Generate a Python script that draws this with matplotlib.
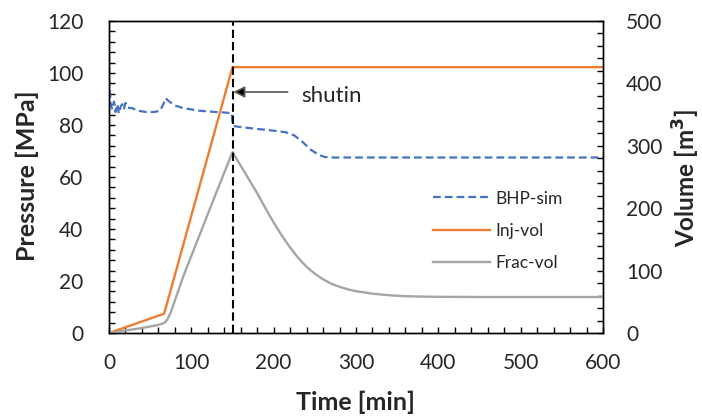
import matplotlib
matplotlib.use("Agg")
import matplotlib.pyplot as plt
from matplotlib.ticker import MultipleLocator

plt.rcParams['font.family'] = ['Lato', 'DejaVu Sans']
plt.rcParams['xtick.direction'] = 'in'
plt.rcParams['ytick.direction'] = 'in'
plt.rcParams['xtick.major.pad'] = 14.5
plt.rcParams['ytick.major.pad'] = 18.5

# Bottom-hole pressure from simulation (MPa)
t_bhp = [0, 0.5, 2, 4, 6, 8, 10, 12, 14, 16, 18, 20, 22, 25, 28, 35, 45, 55, 62,
         66, 69, 72, 80, 90, 100, 110, 120, 130, 140, 149, 150, 151, 160, 180,
         200, 215, 225, 235, 245, 255, 262, 270, 300, 400, 500, 600]
bhp = [107, 95, 88, 86, 89, 85, 88, 84.5, 87, 88, 86, 88.5, 87, 86.5, 86.5, 85.5,
       85, 85, 85.5, 88, 90.3, 89.3, 87.5, 86.5, 86, 85.5, 85.2, 85, 84.8, 84.6,
       81, 79.6, 79.2, 78.5, 77.8, 77.2, 76, 73.5, 70.5, 68.5, 67.7, 67.5, 67.5,
       67.5, 67.5, 67.5]

# Cumulative injected volume (m3)
t_inj = [0, 67, 150, 600]
inj_vol = [0, 31, 426, 426]

# Fracture volume (m3)
t_frac = [0, 20, 40, 60, 65, 68, 71, 75, 90, 110, 130, 150, 160, 170, 180, 190,
          200, 210, 220, 230, 240, 250, 260, 270, 280, 290, 300, 320, 340, 360,
          380, 400, 450, 500, 600]
frac_vol = [0, 4, 8, 13, 15, 17, 22, 33, 90, 157, 224, 290, 268, 246, 224, 200,
            177, 156, 137, 120, 106, 95, 86, 79, 74, 70, 67, 63, 60.5, 59, 58.3,
            58, 57.7, 57.7, 57.7]

t_shutin = 150

x_ticks = [0, 100, 200, 300, 400, 500, 600]
p_ticks = [0, 20, 40, 60, 80, 100, 120]
v_ticks = [0, 100, 200, 300, 400, 500]

BLUE = '#4472C4'
ORANGE = '#ED7D31'
GRAY = '#A5A5A5'
TXT = '#262626'

fig = plt.figure(figsize=(7.02, 4.19), dpi=100)
ax = fig.add_axes([109 / 702, 1 - 333 / 419, (603 - 109) / 702, (333 - 21) / 419])
ax2 = ax.twinx()

l1, = ax.plot(t_bhp, bhp, color=BLUE, lw=1.6, ls=(0, (3.5, 1.8)), label='BHP-sim')
l2, = ax2.plot(t_inj, inj_vol, color=ORANGE, lw=1.7, label='Inj-vol')
l3, = ax2.plot(t_frac, frac_vol, color=GRAY, lw=1.7, label='Frac-vol')
ax2.axvline(t_shutin, color='black', lw=1.5, ls=(0, (4, 1.9)), zorder=5)

ax.set_xlim(0, 600)
ax.set_ylim(0, 120)
ax2.set_ylim(0, 500)
ax.set_xticks(x_ticks)
ax.set_yticks(p_ticks)
ax2.set_yticks(v_ticks)
ax.xaxis.set_minor_locator(MultipleLocator(20))
ax.yaxis.set_minor_locator(MultipleLocator(4))
ax2.yaxis.set_minor_locator(MultipleLocator(20))

for a in (ax, ax2):
    a.tick_params(which='both', length=4, width=1.0, color='black',
                  labelsize=15, labelcolor=TXT)
    for s in a.spines.values():
        s.set_linewidth(1.0)
ax2.tick_params(axis='y', pad=16.5)

ax.set_xlabel('Time [min]', fontsize=18, fontweight='bold', color=TXT)
ax.set_ylabel('Pressure [MPa]', fontsize=18, fontweight='bold', color=TXT)
ax2.set_ylabel('Volume [m$^\\mathbf{3}$]', fontsize=17.5, fontweight='bold', color=TXT)
ax.xaxis.set_label_coords(0.5, -0.186)
ax.yaxis.set_label_coords(-0.142, 0.503)
ax2.yaxis.set_label_coords(1.138, 0.497)

ax2.annotate('', xy=(151, 92.7 * 500 / 120), xytext=(217, 92.7 * 500 / 120),
             arrowprops=dict(arrowstyle='-|>', ec='#595959', fc='black', lw=1.2,
                             mutation_scale=17, shrinkA=0, shrinkB=0))
ax2.text(234, 88.8 * 500 / 120, 'shutin', fontsize=16, color=TXT, va='baseline',
         ha='left')

fig.legend(handles=[l1, l2, l3], loc='center left',
           bbox_to_anchor=(433 / 702, 1 - 231 / 419), bbox_transform=fig.transFigure,
           frameon=False, fontsize=12.5, handlelength=3.3, handletextpad=0.3,
           labelspacing=0.95, borderpad=0, borderaxespad=0, labelcolor=TXT)

fig.savefig('out.png', dpi=100)
